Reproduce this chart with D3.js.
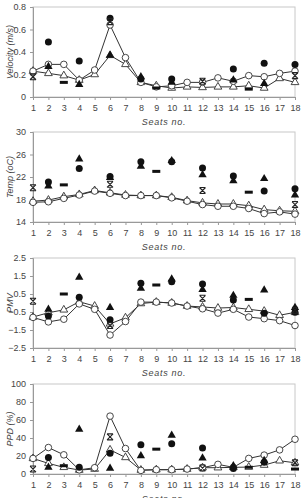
<!DOCTYPE html>
<html>
<head>
<meta charset="utf-8">
<script src="https://cdn.jsdelivr.net/npm/d3@7"></script>
<style>
  body { margin: 0; background: #fff; }
  svg text { font-family: "Liberation Sans", Arial, sans-serif; fill: #444; }
</style>
</head>
<body>
<script>
const seats = [1, 2, 3, 4, 5, 6, 7, 8, 9, 10, 11, 12, 13, 14, 15, 16, 17, 18]

// velocity (m/s)
const velCircle = [0.23, 0.29, 0.29, 0.15, 0.24, 0.64, 0.35, 0.13, 0.09, 0.10, 0.13, 0.13, 0.17, 0.14, 0.19, 0.18, 0.21, 0.23]
const velTri = [0.23, 0.21, 0.19, 0.15, 0.20, 0.37, 0.29, 0.13, 0.10, 0.08, 0.09, 0.085, 0.09, 0.09, 0.10, 0.08, 0.165, 0.13]
const velDot = [null, 0.49, null, 0.32, null, 0.70, null, 0.16, null, 0.16, null, null, null, 0.25, null, 0.30, null, 0.29]
const velTriF = [null, 0.27, null, 0.11, null, 0.37, null, 0.18, null, 0.13, null, null, null, 0.15, null, 0.12, null, null]
const velDash = [null, null, 0.13, null, null, null, null, null, 0.08, null, null, null, null, null, 0.07, null, null, null]
const velStar = [0.18, null, null, null, null, 0.67, null, null, null, null, null, 0.14, null, null, null, null, null, 0.19]

// temperature (oC)
const tempCircle = [17.5, 17.6, 18.2, 18.8, 19.5, 19.1, 18.7, 18.7, 18.7, 18.3, 17.7, 17.1, 16.8, 16.8, 16.4, 15.5, 15.8, 15.4]
const tempTri = [17.7, 17.9, 18.5, 18.9, 19.6, 19.2, 18.8, 18.7, 18.7, 18.4, 17.8, 17.4, 17.2, 17.2, 16.9, 16.2, 16.0, 15.9]
const tempDot = [null, 21.1, null, 23.5, null, 22.1, null, 24.7, null, 24.7, null, 23.6, null, 22.2, null, 19.5, null, 19.9]
const tempTriF = [null, 20.4, null, 25.2, null, 21.9, null, 23.9, null, 24.9, null, 22.4, null, 21.3, null, 21.7, null, 18.8]
const tempDash = [null, null, 20.6, null, null, null, null, null, 23.0, null, null, null, null, null, 19.3, null, null, null]
const tempStar = [20.1, null, null, null, null, 20.7, null, null, null, null, null, 19.6, null, null, null, null, null, 17.1]

// PMV
const pmvCircle = [-0.8, -1.05, -0.9, -0.05, -0.35, -1.78, -1.03, 0.05, 0.05, 0.0, -0.17, -0.32, -0.56, -0.35, -0.78, -0.87, -0.98, -1.25]
const pmvTri = [-0.78, -0.54, -0.38, 0.07, -0.17, -1.16, -0.82, -0.03, 0.05, 0.0, -0.17, -0.22, -0.28, -0.25, -0.35, -0.45, -0.68, -0.52]
const pmvDot = [null, -0.72, null, 0.32, null, -0.93, null, 1.1, null, 1.18, null, 1.05, null, 0.17, null, -0.57, null, -0.52]
const pmvTriF = [null, -0.35, null, 1.43, null, -0.25, null, 0.82, null, 1.33, null, 0.75, null, 0.42, null, 0.72, null, -0.25]
const pmvDash = [null, null, 0.5, null, null, null, null, null, 1.0, null, null, null, null, null, 0.2, null, null, null]
const pmvStar = [0.1, null, null, null, null, -1.25, null, null, null, null, null, 0.26, null, null, null, null, null, -0.4]

// PPD (%)
const ppdCircle = [17.3, 29.4, 21.3, 4.6, 7.0, 64.3, 28.3, 4.0, 4.8, 4.8, 5.5, 7.0, 10.7, 7.4, 17.3, 21.0, 26.8, 38.6]
const ppdTri = [17.3, 11.8, 7.4, 4.4, 5.5, 26.8, 18.4, 4.4, 4.8, 4.8, 5.5, 7.0, 7.0, 7.4, 7.7, 9.9, 14.7, 12.5]
const ppdDot = [null, 18.4, null, 7.4, null, 23, null, 32.4, null, 33.5, null, 29, null, 6.2, null, 13, null, null]
const ppdTriF = [null, 7.4, null, 49.6, null, 6.2, null, 20.2, null, 43, null, 17.6, null, 9, null, 15, null, null]
const ppdDash = [null, null, 9.2, null, null, null, null, null, 27.6, null, null, null, null, null, 7.5, null, null, 5.5]
const ppdStar = [5.5, null, null, null, null, 41.2, null, null, null, null, null, 6.6, null, null, null, null, null, 12.5]

const panels = [
  {title: "Velocity (m/s)", top: 7, domain: [0, 0.8], ticks: [0, 0.2, 0.4, 0.6, 0.8], fmt: d => d === 0 ? "0" : d3.format(".1f")(d),
   circle: velCircle, tri: velTri, dot: velDot, triF: velTriF, dash: velDash, star: velStar},
  {title: "Temp (oC)", top: 132, domain: [14, 30], ticks: [14, 18, 22, 26, 30], fmt: d => d,
   circle: tempCircle, tri: tempTri, dot: tempDot, triF: tempTriF, dash: tempDash, star: tempStar},
  {title: "PMV", top: 258, domain: [-2.5, 2.5], ticks: [-2.5, -1.5, -0.5, 0.5, 1.5, 2.5], fmt: d => d3.format(".1f")(d),
   circle: pmvCircle, tri: pmvTri, dot: pmvDot, triF: pmvTriF, dash: pmvDash, star: pmvStar},
  {title: "PPD (%)", top: 384, domain: [0, 100], ticks: [0, 20, 40, 60, 80, 100], fmt: d => d,
   circle: ppdCircle, tri: ppdTri, dot: ppdDot, triF: ppdTriF, dash: ppdDash, star: ppdStar}
]

const width = 302, height = 498
const left = 33, right = 295, ph = 90

const svg = d3.select("body").append("svg")
  .attr("width", width).attr("height", height)

const x = d3.scaleLinear().domain([1, 18]).range([left, right])

const starPath = "M-3,-3L3,3M3,-3L-3,3M-3,-3L3,-3M-3,3L3,3"

panels.forEach(p => {
  const y = d3.scaleLinear().domain(p.domain).range([p.top + ph, p.top])
  const g = svg.append("g")

  // frame
  g.append("rect")
    .attr("x", left).attr("y", p.top)
    .attr("width", right - left).attr("height", ph)
    .attr("fill", "none").attr("stroke", "#c8c8c8").attr("stroke-width", 1)

  // axes
  const xa = g.append("g").attr("transform", `translate(0,${p.top + ph})`)
    .call(d3.axisBottom(x).tickValues(seats).tickSize(3).tickPadding(5).tickFormat(d3.format("d")))
  const ya = g.append("g").attr("transform", `translate(${left},0)`)
    .call(d3.axisLeft(y).tickValues(p.ticks).tickSize(3).tickPadding(4).tickFormat(p.fmt))
  ;[xa, ya].forEach(a => {
    a.select(".domain").attr("stroke", "#999")
    a.selectAll(".tick line").attr("stroke", "#999")
    a.selectAll("text").attr("font-size", 9).attr("fill", "#444")
      .attr("font-family", "Liberation Sans, Arial, sans-serif")
  })

  // axis titles
  g.append("text")
    .attr("x", (left + right) / 2).attr("y", p.top + ph + 28)
    .attr("text-anchor", "middle").attr("font-size", 9)
    .attr("font-style", "italic").attr("letter-spacing", 0.7)
    .text("Seats no.")
  g.append("text")
    .attr("transform", `translate(13,${p.top + ph / 2}) rotate(-90)`)
    .attr("text-anchor", "middle").attr("font-size", 9)
    .attr("font-style", "italic")
    .text(p.title)

  const line = d3.line().x((d, i) => x(seats[i])).y(d => y(d))

  // lines
  ;[p.tri, p.circle].forEach(s => {
    g.append("path").datum(s)
      .attr("d", line).attr("fill", "none")
      .attr("stroke", "#333").attr("stroke-width", 1)
  })

  // line markers
  g.selectAll(".mt").data(p.tri).enter().append("path")
    .attr("transform", (d, i) => `translate(${x(seats[i])},${y(d)})`)
    .attr("d", d3.symbol(d3.symbolTriangle, 26)())
    .attr("fill", "#fff").attr("stroke", "#333").attr("stroke-width", 0.9)
  g.selectAll(".mc").data(p.circle).enter().append("circle")
    .attr("cx", (d, i) => x(seats[i])).attr("cy", d => y(d))
    .attr("r", 3.3)
    .attr("fill", "#fff").attr("stroke", "#333").attr("stroke-width", 0.9)

  // scattered measurements
  const pts = s => s.map((d, i) => ({v: d, s: seats[i]})).filter(d => d.v !== null)

  g.selectAll(".sd").data(pts(p.dash)).enter().append("rect")
    .attr("x", d => x(d.s) - 4).attr("y", d => y(d.v) - 1.5)
    .attr("width", 8).attr("height", 3).attr("fill", "#111")
  g.selectAll(".st").data(pts(p.triF)).enter().append("path")
    .attr("transform", d => `translate(${x(d.s)},${y(d.v)})`)
    .attr("d", d3.symbol(d3.symbolTriangle, 30)())
    .attr("fill", "#111")
  g.selectAll(".sc").data(pts(p.dot)).enter().append("circle")
    .attr("cx", d => x(d.s)).attr("cy", d => y(d.v))
    .attr("r", 3.5).attr("fill", "#111")
  g.selectAll(".sx").data(pts(p.star)).enter().append("path")
    .attr("transform", d => `translate(${x(d.s)},${y(d.v)})`)
    .attr("d", starPath)
    .attr("fill", "none").attr("stroke", "#222").attr("stroke-width", 1.1)
})
</script>
</body>
</html>
